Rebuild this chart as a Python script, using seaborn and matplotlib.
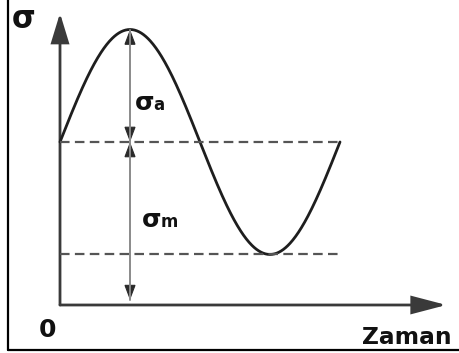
import numpy as np
import pandas as pd
import matplotlib
matplotlib.use("Agg")
import matplotlib.pyplot as plt
from matplotlib.patches import FancyArrowPatch
from matplotlib.lines import Line2D
import seaborn as sns

# Cyclic stress parameters (arbitrary units)
mean_stress = 1.0      # sigma_m
amp_stress = 0.69      # sigma_a
period = 1.0           # one full load cycle
t_peak = 0.25          # time of maximum stress
t_axis_end = 1.38      # length of the time axis
s_axis_end = 1.79      # length of the stress axis

axis_labels = ["σ", "Zaman", "0"]
mark_labels = ["σ", "a", "σ", "m"]

sns.set_theme(style="white")
plt.rcParams["font.family"] = ["DejaVu Sans"]

fig = plt.figure(figsize=(4.59, 3.53), dpi=100)
ax = fig.add_axes([0, 0, 1, 1])
ax.set_xlim(-0.2143, 1.425)
ax.set_ylim(-0.2945, 1.871)
ax.axis("off")

# stress–time curve
t = np.linspace(0, period, 500)
curve = pd.DataFrame({"t": t,
                      "s": mean_stress + amp_stress * np.sin(2 * np.pi * t / period)})
sns.lineplot(data=curve, x="t", y="s", ax=ax, color="#1e1e1e", lw=2.0,
             sort=False, estimator=None)

# dashed reference levels (mean and minimum)
for level in (mean_stress, mean_stress - amp_stress):
    ax.plot([0, period], [level, level], color="#555555", lw=1.6,
            linestyle=(0, (4.3, 2.4)), solid_capstyle="butt")


def arrow(p0, p1, color, lw, hl, hw, style="-|>"):
    a = FancyArrowPatch(p0, p1, arrowstyle=f"{style},head_length={hl},head_width={hw}",
                        color=color, lw=lw, shrinkA=0, shrinkB=0, mutation_scale=1,
                        joinstyle="miter")
    ax.add_patch(a)


# coordinate axes
arrow((0, 0), (0, s_axis_end), "#3a3a3a", 2.0, 18, 5.5)
arrow((0, 0), (t_axis_end, 0), "#3a3a3a", 2.0, 21, 5.5)

# amplitude and mean dimension arrows
head_len = 0.08
shaft_col = "#8a8a8a"
head_col = "#2a2a2a"
ax.plot([t_peak, t_peak], [0.03, mean_stress + amp_stress], color=shaft_col, lw=1.4)
for base, tip in [
    (mean_stress + amp_stress - head_len, mean_stress + amp_stress),
    (mean_stress + head_len, mean_stress),
    (mean_stress - head_len, mean_stress),
    (0.03 + head_len, 0.03),
]:
    arrow((t_peak, base), (t_peak, tip), head_col, 0.8, 9.5, 3.6)

txt = dict(color="#111111", fontweight="bold", ha="left", va="baseline")
ax.text(-0.171, 1.70, axis_labels[0], fontsize=22, **txt)
ax.text(1.080, -0.239, axis_labels[1], fontsize=16.8, **txt)
ax.text(-0.075, -0.196, axis_labels[2], fontsize=18, **txt)
ax.text(0.268, 1.196, mark_labels[0], fontsize=18, **txt)
ax.text(0.333, 1.196, mark_labels[1], fontsize=12, **txt)
ax.text(0.293, 0.479, mark_labels[2], fontsize=18, **txt)
ax.text(0.360, 0.479, mark_labels[3], fontsize=12, **txt)

# picture frame: left and bottom edges
frame_x = 8 / 459
frame_y = 1 - 350 / 353
fig.add_artist(Line2D([frame_x, frame_x], [frame_y, 1],
                      transform=fig.transFigure, color="black", lw=1.6))
fig.add_artist(Line2D([frame_x, 1], [frame_y, frame_y],
                      transform=fig.transFigure, color="black", lw=1.6))

fig.savefig("out.png", dpi=100)
